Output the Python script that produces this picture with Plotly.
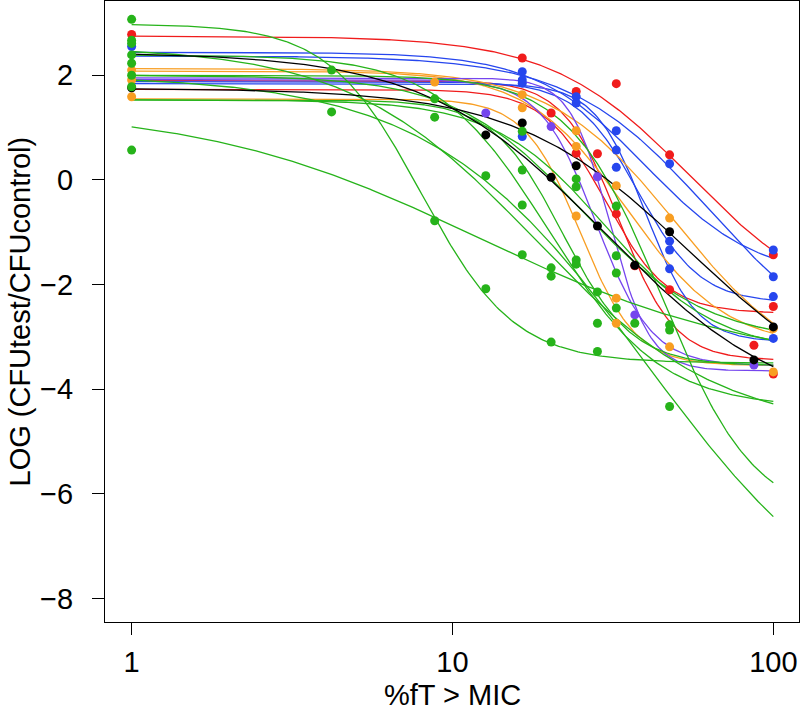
import numpy as np
import plotly.graph_objects as go

RED = "#f01c1c"
BLUE = "#2646ee"
GREEN = "#26b31a"
ORANGE = "#f89e22"
PURPLE = "#7545ee"
BLACK = "#000000"

# Fitted Emax (Hill) curves: colour, top (E0), bottom (Emin), EC50 (%fT>MIC), Hill slope
curve_color = [RED, RED, RED,
               BLUE, BLUE, BLUE, BLUE,
               ORANGE, ORANGE, ORANGE,
               PURPLE, PURPLE,
               GREEN, GREEN, GREEN, GREEN, GREEN, GREEN, GREEN, GREEN, GREEN,
               BLACK, BLACK]
curve_top = [2.75, 1.73, 1.90,
             2.44, 2.37, 1.88, 1.84,
             1.55, 2.13, 2.08,
             1.95, 1.92,
             2.98, 1.40, 2.00, 2.00, 2.39, 2.55, 2.00, 1.53, 1.53,
             2.44, 1.75]
curve_bottom = [-2.6, -2.55, -3.45,
                -1.9, -3.5, -2.35, -3.1,
                -3.55, -3.8, -3.2,
                -3.65, -3.55,
                -3.5, -3.6, -9.0, -6.5, -4.35, -4.8, -3.1, -3.3, -3.55,
                -4.5, -4.5]
curve_ec50 = [55, 30, 33,
              40, 63, 38, 40,
              25, 50, 35,
              31, 28,
              8, 12, 40, 45, 20, 18, 25, 30, 22,
              30, 55]
curve_hill = [2.0, 4.5, 5.0,
              2.5, 2.0, 4.5, 5.5,
              5.0, 2.2, 2.8,
              7.0, 5.0,
              3.0, 1.0, 1.3, 3.0, 2.5, 1.5, 2.2, 2.5, 4.0,
              1.55, 1.6]

# Observed data points (%fT>MIC, log CFU ratio)
red_x = [1, 16.5, 20.3, 24.3, 24.3, 28.3, 32.4, 32.4, 37, 47.5, 47.5, 87, 100, 100, 100]
red_y = [2.78, 2.33, 1.28, 1.69, 0.51, 0.50, 1.84, -0.65, -1.64, 0.48, -2.10, -3.16, -1.43, -2.42, -3.71]

blue_x = [1, 16.5, 16.5, 16.5, 16.5, 24.3, 24.3, 32.4, 32.4, 32.4, 47.5, 47.5, 47.5, 47.5, 100, 100, 100, 100]
blue_y = [2.55, 2.07, 1.91, 1.85, 0.83, 1.59, 1.47, 0.94, 0.57, 0.24, 0.31, -1.17, -1.34, -1.70, -1.34, -1.85, -2.23, -3.03]

orange_x = [1, 1, 1, 8.8, 16.5, 16.5, 24.3, 24.3, 24.3, 32.4, 32.4, 32.4, 47.5, 47.5, 100, 100]
orange_y = [2.10, 1.91, 1.59, 1.87, 1.63, 1.38, 0.94, 0.64, -0.69, -0.11, -2.26, -2.74, -0.73, -3.19, -2.84, -3.67]

purple_x = [12.7, 20.3, 28.3, 37, 87]
purple_y = [1.28, 1.02, 0.06, -2.58, -3.54]

green_x = [1, 1, 1, 1, 1, 1, 1, 1, 4.2, 4.2, 8.8, 8.8, 8.8, 12.7, 12.7,
           16.5, 16.5, 16.5, 16.5, 20.3, 20.3, 20.3, 24.3, 24.3, 24.3, 24.3,
           28.3, 28.3, 28.3, 32.4, 32.4, 32.4, 32.4, 37, 47.5, 47.5, 47.5]
green_y = [3.07, 2.67, 2.61, 2.39, 2.23, 2.00, 1.78, 0.57, 2.10, 1.30, 1.55, 1.20, -0.78, 0.08, -2.08,
           0.93, 0.19, -0.48, -1.43, -1.68, -1.84, -3.10, 0.02, -0.13, -1.53, -1.61,
           -2.14, -2.74, -3.28, -0.50, -1.45, -1.78, -2.45, -2.74, -2.77, -2.87, -4.33]

black_x = [1, 12.7, 16.5, 20.3, 24.3, 28.3, 37, 47.5, 87, 100]
black_y = [1.76, 0.86, 1.09, 0.05, 0.27, -0.88, -1.63, -0.99, -3.44, -2.81]

x_title = "%fT > MIC"
y_title = "LOG (CFUtest/CFUcontrol)"

fig = go.Figure()

xs = np.logspace(0, 2, 300)
for col, top, bot, ec, h in zip(curve_color, curve_top, curve_bottom, curve_ec50, curve_hill):
    ys = bot + (top - bot) / (1.0 + (xs / ec) ** h)
    fig.add_trace(go.Scatter(x=xs, y=ys, mode="lines", line=dict(color=col, width=1.3),
                             hoverinfo="skip"))

for px, py, col in [(red_x, red_y, RED), (blue_x, blue_y, BLUE), (orange_x, orange_y, ORANGE),
                    (purple_x, purple_y, PURPLE), (black_x, black_y, BLACK), (green_x, green_y, GREEN)]:
    fig.add_trace(go.Scatter(x=px, y=py, mode="markers",
                             marker=dict(color=col, size=9, line=dict(width=0))))

FONT = "Liberation Sans, Arial, Helvetica, sans-serif"
fig.update_layout(
    width=800, height=714,
    margin=dict(l=105, r=1, t=1, b=92),
    plot_bgcolor="white", paper_bgcolor="white",
    showlegend=False,
    font=dict(family=FONT, size=29, color="black"),
)
fig.update_xaxes(
    type="log", range=[-0.083, 2.080],
    tickvals=[1, 10, 100], ticktext=["1", "10", "100"],
    ticks="outside", ticklen=12, tickwidth=1, tickcolor="black",
    ticklabelstandoff=2, automargin=False,
    showline=True, linecolor="black", linewidth=1.2, mirror=True,
    showgrid=False, zeroline=False,
)
fig.update_yaxes(
    range=[-8.45, 3.42],
    tickvals=[-8, -6, -4, -2, 0, 2],
    ticks="outside", ticklen=12, tickwidth=1, tickcolor="black",
    ticklabelstandoff=13, automargin=False,
    showline=True, linecolor="black", linewidth=1.2, mirror=True,
    showgrid=False, zeroline=False,
)

# axis titles placed as annotations, kept just inside the page edges
fig.add_annotation(text=x_title, xref="paper", yref="paper", x=0.5, y=0,
                   xanchor="center", yanchor="top", yshift=-55, showarrow=False,
                   font=dict(size=29, family=FONT, color="black"))
fig.add_annotation(text=y_title, xref="paper", yref="paper", x=0, y=0.5,
                   xanchor="center", yanchor="middle", xshift=-86, textangle=-90,
                   showarrow=False, font=dict(size=29, family=FONT, color="black"))

fig.write_html("out.html", config={"displayModeBar": False},
               post_script="document.body.style.margin='0px';")
